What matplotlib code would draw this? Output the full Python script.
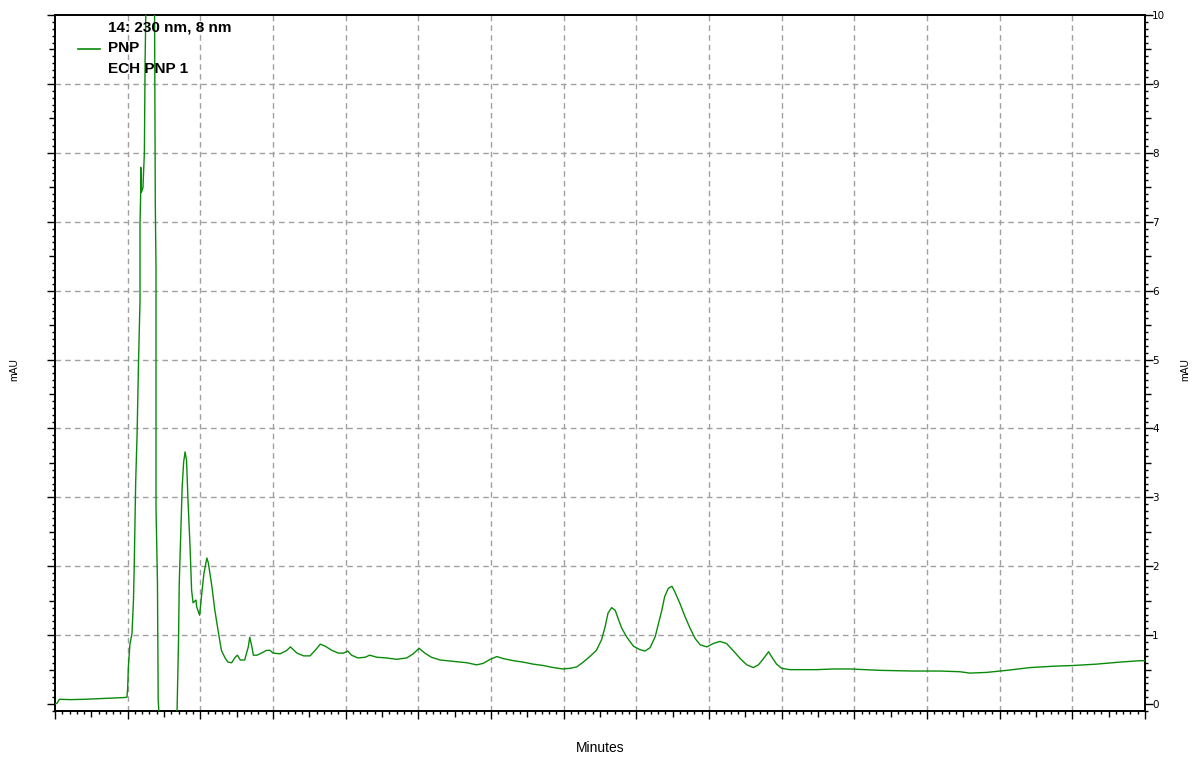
import matplotlib
matplotlib.use("Agg")
import matplotlib.pyplot as plt
from matplotlib.ticker import MultipleLocator, FuncFormatter
from matplotlib.lines import Line2D

# Chromatogram trace, 230 nm detection (time in minutes, absorbance in mAU)
time_min = [
    0.00, 0.03, 0.06, 0.21, 0.41, 0.62, 0.83, 0.95, 0.99,
    1.00, 1.01, 1.03, 1.06, 1.08, 1.09, 1.11, 1.13, 1.15, 1.17, 1.17,
    1.18, 1.18, 1.19, 1.21, 1.23, 1.24, 1.25, 1.31, 1.37, 1.38, 1.39,
    1.39, 1.41, 1.42, 1.43, 1.55, 1.68,
    1.70, 1.71, 1.73, 1.75, 1.77, 1.79, 1.81, 1.83, 1.86, 1.88, 1.90,
    1.94, 1.95, 1.99, 2.02, 2.05, 2.09, 2.11, 2.16, 2.20, 2.25, 2.29,
    2.34, 2.38, 2.43, 2.48, 2.51, 2.55, 2.61, 2.66, 2.68, 2.71, 2.73,
    2.78, 2.84, 2.91, 2.96, 3.00, 3.10, 3.19, 3.24, 3.33, 3.42, 3.51,
    3.58, 3.65, 3.72, 3.81, 3.90, 3.97, 4.03, 4.08, 4.17, 4.27, 4.33,
    4.43, 4.56, 4.70, 4.84, 4.93, 5.01, 5.09, 5.18, 5.30, 5.48, 5.67,
    5.80, 5.89, 5.99, 6.08, 6.17, 6.31, 6.44, 6.58, 6.72, 6.86, 6.99,
    7.09, 7.18, 7.27, 7.36, 7.45, 7.52, 7.57, 7.61, 7.66, 7.71, 7.75,
    7.80, 7.87, 7.96, 8.05, 8.12, 8.19, 8.26, 8.30, 8.35, 8.39, 8.44,
    8.49, 8.53, 8.60, 8.67, 8.74, 8.81, 8.88, 8.97, 9.06, 9.15, 9.24,
    9.33, 9.43, 9.52, 9.61, 9.68, 9.75, 9.82, 9.86, 9.93, 10.00, 10.11,
    10.25, 10.48, 10.71, 10.94, 11.35, 11.81, 12.18, 12.45, 12.59, 12.82,
    13.10, 13.42, 13.74, 14.01, 14.33, 14.66, 14.93, 15.00,
]
absorbance_mau = [
    0.00, 0.015, 0.07, 0.065, 0.07, 0.08, 0.09, 0.095, 0.10,
    0.23, 0.54, 0.86, 1.03, 1.51, 1.99, 3.21, 3.93, 4.99, 5.86, 6.98,
    7.46, 7.79, 7.43, 7.49, 8.00, 9.35, 10.07, 13.50, 10.07, 7.30, 6.30,
    2.86, 1.76, 0.06, -0.12, -0.90, -0.09,
    0.93, 1.76, 2.48, 3.15, 3.51, 3.66, 3.54, 2.96, 2.24, 1.65, 1.47,
    1.51, 1.41, 1.29, 1.61, 1.90, 2.12, 2.05, 1.70, 1.36, 1.03, 0.78,
    0.67, 0.61, 0.60, 0.68, 0.71, 0.64, 0.64, 0.83, 0.97, 0.83, 0.71,
    0.71, 0.74, 0.78, 0.78, 0.74, 0.73, 0.78, 0.83, 0.74, 0.70, 0.70,
    0.78, 0.87, 0.84, 0.78, 0.74, 0.74, 0.77, 0.71, 0.67, 0.68, 0.71,
    0.68, 0.67, 0.65, 0.67, 0.73, 0.81, 0.74, 0.68, 0.64, 0.62, 0.60,
    0.57, 0.59, 0.65, 0.69, 0.66, 0.63, 0.61, 0.58, 0.56, 0.53, 0.51,
    0.52, 0.54, 0.61, 0.69, 0.78, 0.93, 1.12, 1.32, 1.40, 1.36, 1.24,
    1.10, 0.97, 0.84, 0.79, 0.77, 0.82, 0.98, 1.15, 1.36, 1.56, 1.68,
    1.71, 1.63, 1.46, 1.27, 1.10, 0.95, 0.86, 0.83, 0.88, 0.91, 0.88,
    0.78, 0.66, 0.57, 0.53, 0.57, 0.66, 0.76, 0.69, 0.58, 0.52, 0.50,
    0.50, 0.50, 0.51, 0.51, 0.49, 0.48, 0.48, 0.47, 0.45, 0.46,
    0.49, 0.53, 0.55, 0.56, 0.58, 0.61, 0.63, 0.63,
]

header_lines = ["14: 230 nm, 8 nm", "PNP", "ECH PNP 1"]
trace_color = "#0a8a0a"

W, H = 1192, 760
fig = plt.figure(figsize=(W / 100, H / 100), dpi=100)
ax = fig.add_axes([55 / W, 1 - 711 / H, (1145 - 55) / W, (711 - 15) / H])

ax.plot(time_min, absorbance_mau, color=trace_color, lw=1.0, zorder=3)

ax.set_xlim(0, 15)
ax.set_ylim(-0.10, 10)

for side in ax.spines.values():
    side.set_linewidth(1.4)
    side.set_color("black")

# ticks: long at whole units, medium at halves, short at tenths
ax.xaxis.set_major_locator(MultipleLocator(0.5))
ax.xaxis.set_minor_locator(MultipleLocator(0.1))
ax.yaxis.set_major_locator(MultipleLocator(0.5))
ax.yaxis.set_minor_locator(MultipleLocator(0.1))

ax.tick_params(axis="x", which="both", direction="out", bottom=True, top=False,
               labelbottom=False, width=1.0, color="black")
ax.tick_params(axis="y", which="both", direction="out", left=True, right=True,
               labelleft=False, labelright=True, width=1.0, color="black")
ax.tick_params(which="minor", length=2.5)
ax.tick_params(which="major", length=4, pad=1, labelsize=7.5)

ax.yaxis.set_major_formatter(
    FuncFormatter(lambda v, p: f"{int(round(v))}" if abs(v - round(v)) < 1e-6 else ""))

ax.grid(True, which="major", color="#a0a0a0", linestyle=(0, (4, 3)), linewidth=1.0)
fig.canvas.draw()

for axis in (ax.xaxis, ax.yaxis):
    locs = axis.get_majorticklocs()
    ticks = axis.get_major_ticks(len(locs))
    for loc, tk in zip(locs, ticks):
        whole = abs(loc - round(loc)) < 1e-6
        tk.gridline.set_visible(whole and 0 < loc < (15 if axis is ax.xaxis else 10))
        size = 6 if whole else 4
        tk.tick1line.set_markersize(size)
        tk.tick2line.set_markersize(size)
ax.set_axisbelow(True)

# header block with the trace swatch
font = ["Liberation Sans", "DejaVu Sans"]
for i, txt in enumerate(header_lines):
    fig.text(108 / W, 1 - (28 + 20.5 * i) / H, txt, fontsize=11, fontweight="bold",
             family=font, va="center", ha="left")
fig.add_artist(Line2D([78 / W, 100 / W], [1 - 49 / H, 1 - 49 / H],
                      color=trace_color, lw=1.2, transform=fig.transFigure))

fig.text(14 / W, 1 - 370 / H, "mAU", rotation=90, fontsize=7.5, family=font,
         ha="center", va="center")
fig.text(1185 / W, 1 - 370 / H, "mAU", rotation=90, fontsize=7.5, family=font,
         ha="center", va="center")
fig.text(600 / W, 1 - 748 / H, "Minutes", fontsize=10, family=font,
         ha="center", va="center")

fig.savefig("out.png", dpi=100)
